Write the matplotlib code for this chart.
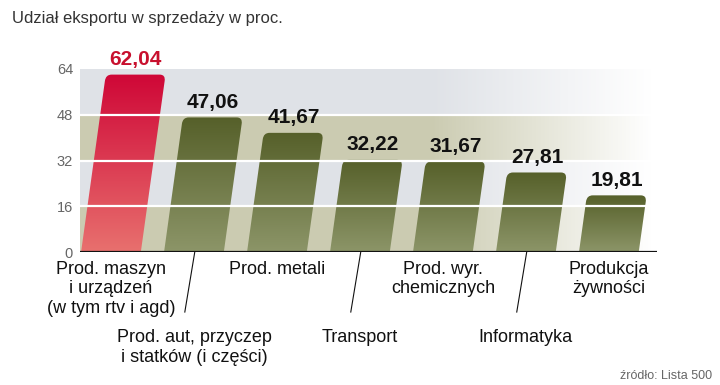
import numpy as np
import matplotlib
matplotlib.use("Agg")
import matplotlib.pyplot as plt
from matplotlib.path import Path
from matplotlib.patches import PathPatch
from matplotlib.colors import to_rgb

# data
categories = ["Prod. maszyn\ni urządzeń\n(w tym rtv i agd)",
              "Prod. aut, przyczep\ni statków (i części)",
              "Prod. metali",
              "Transport",
              "Prod. wyr.\nchemicznych",
              "Informatyka",
              "Produkcja\nżywności"]
values = [62.04, 47.06, 41.67, 32.22, 31.67, 27.81, 19.81]
yticks = [0, 16, 32, 48, 64]

plt.rcParams['font.family'] = ['Liberation Sans', 'DejaVu Sans']

RED_TOP, RED_BOT = "#cf0737", "#e8706e"
OLV_TOP, OLV_BOT = "#56602a", "#8c9568"
GRAY_BAND, BEIGE_BAND = "#dfe2e7", "#cbcbb1"

fig = plt.figure(figsize=(7.2, 3.85), dpi=100)
ax = fig.add_axes([80/720, 1-252/385, 577/720, 183/385])
xmin, xmax = -0.373, 6.58

# banded background (beige / gray every 16)
for lo, hi in zip(yticks[:-1], yticks[1:]):
    band = BEIGE_BAND if (lo // 16) % 2 == 0 else GRAY_BAND
    ax.axhspan(lo, hi, color=band, lw=0, zorder=0)

# white fade over the right side
ncol = 400
px = 80 + np.linspace(0, 1, ncol) * 577
fade = np.zeros((1, ncol, 4))
fade[..., :3] = 1.0
fade[0, :, 3] = np.clip((px - 430) / (650 - 430), 0, 1)
ax.imshow(fade, extent=[xmin, xmax, 0, 64], origin='lower', aspect='auto',
          interpolation='bilinear', zorder=1)


def bar_path(xc, v, w=0.72, k=0.0048, rx=0.07, ry=2.2):
    x0, x1 = xc - w/2, xc + w/2
    s = k * v
    f = (v - ry) / v
    verts = [(x0, 0), (x1, 0), (x1 + s*f, v - ry), (x1 + s, v), (x1 + s - rx, v),
             (x0 + s + rx, v), (x0 + s, v), (x0 + s*f, v - ry), (x0, 0)]
    codes = [Path.MOVETO, Path.LINETO, Path.LINETO, Path.CURVE3, Path.CURVE3,
             Path.LINETO, Path.CURVE3, Path.CURVE3, Path.CLOSEPOLY]
    return Path(verts, codes), x0, x1 + s, s


for i, v in enumerate(values):
    path, left, right, s = bar_path(i, v)
    patch = PathPatch(path, facecolor='none', edgecolor='none', zorder=2)
    ax.add_patch(patch)
    top, bot = (RED_TOP, RED_BOT) if i == 0 else (OLV_TOP, OLV_BOT)
    t = np.linspace(0, 1, 100)[:, None]
    grad = np.array(to_rgb(bot)) * (1 - t) + np.array(to_rgb(top)) * t
    grad = np.repeat(grad[:, None, :], 2, axis=1)
    im = ax.imshow(grad, extent=[left, right, 0, v], origin='lower', aspect='auto',
                   interpolation='bilinear', zorder=2)
    im.set_clip_path(patch)
    lab = f"{v:.2f}".replace(".", ",")
    ax.text(i + s, v + 1.9, lab, ha='center', va='bottom', fontsize=15,
            fontweight='bold', color='#c8102e' if i == 0 else '#111111', zorder=5)

    # category labels, alternating rows with leader lines
    if i % 2 == 0:
        ax.text(i, -3.0, categories[i], ha='center', va='top', fontsize=13,
                linespacing=1.2, color='#111111', clip_on=False)
    else:
        ax.plot([i + 0.01, i - 0.11], [0, -21], color='#111111', lw=0.8,
                clip_on=False, zorder=4)
        ax.text(i, -27.0, categories[i], ha='center', va='top', fontsize=13,
                linespacing=1.2, color='#111111', clip_on=False)

ax.hlines([16, 32, 48], xmin, xmax, color='white', lw=1.6, zorder=3)
ax.hlines(0, xmin, xmax, color='#111111', lw=1.6, zorder=4)

ax.set_xlim(xmin, xmax)
ax.set_ylim(0, 64)
ax.set_xticks([])
ax.set_yticks(yticks)
ax.tick_params(axis='y', length=0, pad=5, labelsize=10.5, labelcolor='#666666')
for sp in ax.spines.values():
    sp.set_visible(False)

fig.text(12/720, 1 - 18/385, "Udział eksportu w sprzedaży w proc.", ha='left', va='center',
         fontsize=12, color='#333333')
fig.text(712/720, 1 - 376/385, "źródło: Lista 500", ha='right', va='center',
         fontsize=9, color='#666666')

fig.savefig("out.png", dpi=100, facecolor='white')
